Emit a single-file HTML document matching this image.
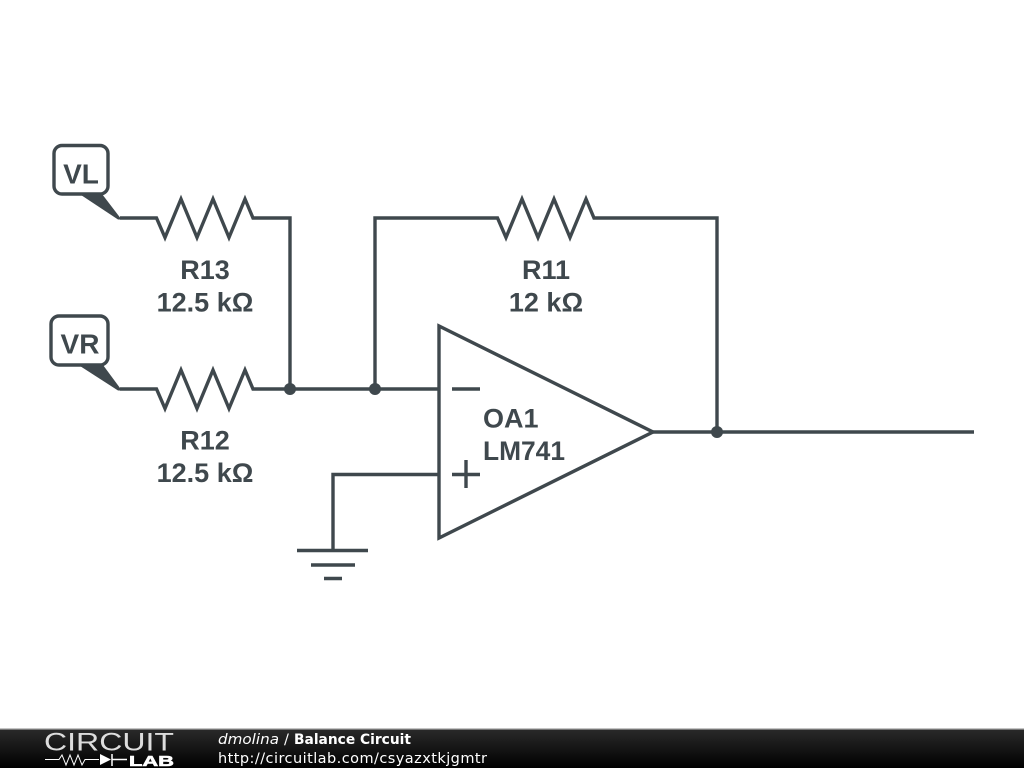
<!DOCTYPE html>
<html>
<head>
<meta charset="utf-8">
<style>
html,body{margin:0;padding:0;background:#fff;width:1024px;height:768px;overflow:hidden}
svg{display:block;position:absolute;left:0;top:0}
.l{font-family:"Liberation Sans",sans-serif;font-weight:700;font-size:27px;fill:#3f484d}
.t{font-size:28px}
.f{font-family:"DejaVu Sans",sans-serif;font-size:14.5px;fill:#fff}
</style>
</head>
<body>
<svg width="1024" height="768" viewBox="0 0 1024 768" xmlns="http://www.w3.org/2000/svg">
<defs>
<linearGradient id="g" x1="0" y1="0" x2="0" y2="1">
<stop offset="0" stop-color="#2a2a2a"/>
<stop offset="1" stop-color="#000000"/>
</linearGradient>
</defs>
<rect width="1024" height="768" fill="#fff"/>
<g fill="none" stroke="#3f484d" stroke-width="3.4" stroke-linejoin="miter" stroke-linecap="butt">
<!-- R13 -->
<path d="M120 218H156.500L165 237.500L181 199L197 237.500L213 199L229 237.500L245 199L253 218H290V389"/>
<!-- R12 -->
<path d="M120 389H156.500L165 408.500L181 370L197 408.500L213 370L229 408.500L245 370L253 389H290"/>
<!-- R11 -->
<path d="M290 389H439"/>
<path d="M375 389V218H497.500L506 237.500L522 199L538 237.500L554 199L570 237.500L586 199L594 218H717V432"/>
<!-- opamp -->
<path d="M439 326V538L653 432Z"/>
<path d="M653 432H974"/>
<path d="M452 389H480M452 474.500H480M466 460V488"/>
<path d="M439 474.500H333V550"/>
<!-- ground -->
<path d="M297 550.500H368M311 565H355M324 578.500H342"/>
<!-- tags -->
<rect x="54" y="145.500" width="54" height="48.500" rx="8" ry="8" fill="#fff"/>
<rect x="51" y="316" width="57" height="49" rx="8" ry="8" fill="#fff"/>
</g>
<path d="M81 195L102 194L120 217.500L121 219.500L118 219.500Z" fill="#3f484d"/>
<path d="M80 366L103 365L120 388L121 390.500L118 390.500Z" fill="#3f484d"/>
<circle cx="290" cy="389" r="6" fill="#3f484d"/>
<circle cx="375" cy="389" r="6" fill="#3f484d"/>
<circle cx="717" cy="432" r="6" fill="#3f484d"/>
<text class="l t" x="81" y="183.500" text-anchor="middle">VL</text>
<text class="l t" x="80" y="353.500" text-anchor="middle">VR</text>
<text class="l" x="205" y="279" text-anchor="middle">R13</text>
<text class="l" x="205" y="311.500" text-anchor="middle">12.5 kΩ</text>
<text class="l" x="205" y="449.500" text-anchor="middle">R12</text>
<text class="l" x="205" y="482" text-anchor="middle">12.5 kΩ</text>
<text class="l" x="546" y="279" text-anchor="middle">R11</text>
<text class="l" x="546" y="311.500" text-anchor="middle">12 kΩ</text>
<text class="l" x="483" y="427.500">OA1</text>
<text class="l" x="483" y="460" textLength="82" lengthAdjust="spacingAndGlyphs">LM741</text>
<!-- footer -->
<rect x="0" y="729" width="1024" height="39" fill="url(#g)"/>
<rect x="0" y="728" width="1024" height="1.500" fill="#c4c4c4"/>
<text x="44" y="750.500" font-family="Liberation Sans, sans-serif" font-size="25" fill="#dddddd" textLength="130" lengthAdjust="spacingAndGlyphs">CIRCUIT</text>
<path d="M45 759.500H59L62 755L66 765L70 755L74 765L78 755L82 765L85 759.500H99" fill="none" stroke="#fff" stroke-width="1"/>
<path d="M100 754V765L111 759.500Z" fill="#fff"/>
<path d="M112 754V766M112 759.500H127" fill="none" stroke="#fff" stroke-width="1.500"/>
<text x="129" y="766" font-family="Liberation Sans, sans-serif" font-weight="700" font-size="15" fill="#fff" stroke="#fff" stroke-width="0.600" textLength="45" lengthAdjust="spacingAndGlyphs">LAB</text>
<text class="f" x="218" y="744" font-style="italic" textLength="61" lengthAdjust="spacingAndGlyphs">dmolina</text>
<text class="f" x="284" y="744">/</text>
<text class="f" x="294" y="744" font-weight="700" textLength="117" lengthAdjust="spacingAndGlyphs">Balance Circuit</text>
<text class="f" x="218" y="763" textLength="269">http://circuitlab.com/csyazxtkjgmtr</text>
</svg>
</body>
</html>
